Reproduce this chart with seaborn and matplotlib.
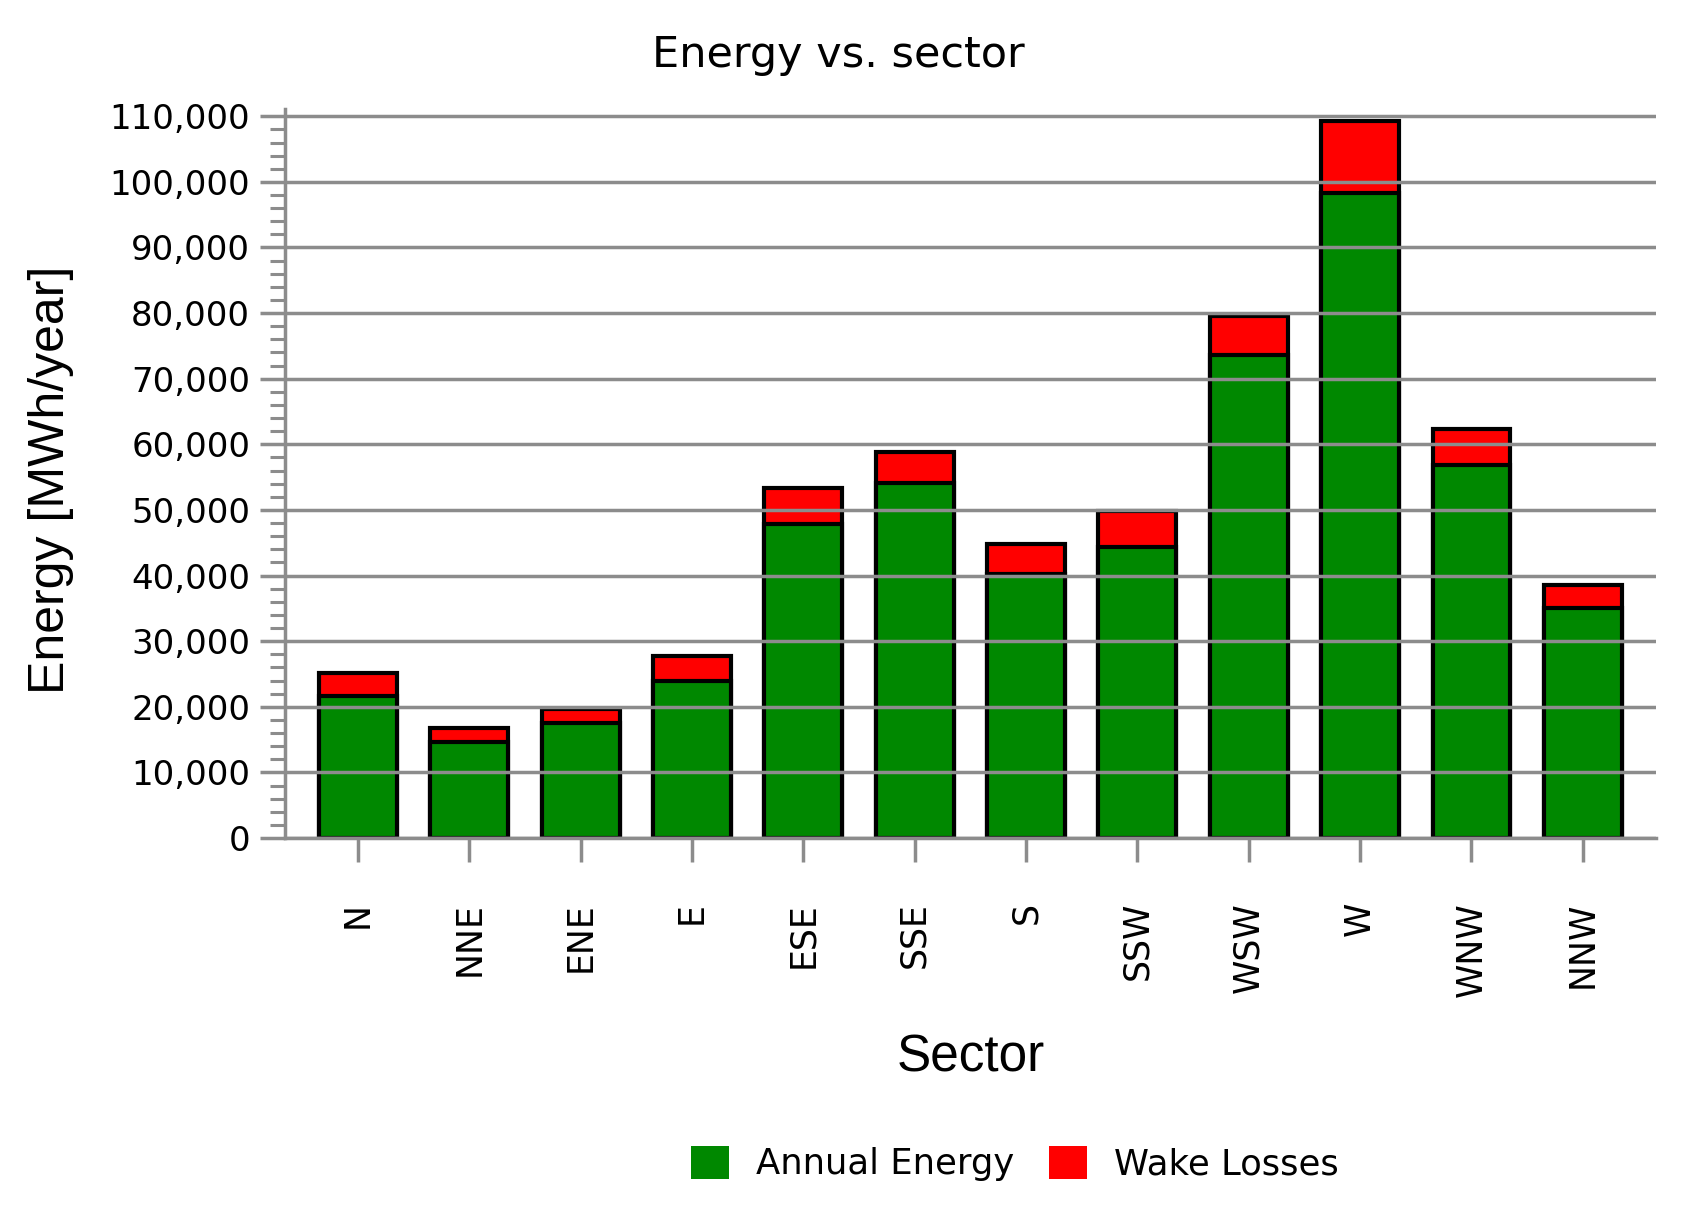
import pandas as pd
import matplotlib
matplotlib.use("Agg")
import matplotlib.pyplot as plt
import matplotlib.ticker as mticker
from matplotlib.patches import Patch
import seaborn as sns

# 데이터
sectors = ['N', 'NNE', 'ENE', 'E', 'ESE', 'SSE', 'S', 'SSW', 'WSW', 'W', 'WNW', 'NNW']
annual_energy = [21600, 14600, 17500, 23900, 47800, 54100, 40200, 44300, 73600, 98300, 56900, 35100]
wake_losses = [3600, 2200, 2100, 3900, 5500, 4800, 4600, 5500, 6000, 11000, 5500, 3500]

df = pd.DataFrame({'Sector': sectors,
                   'Annual Energy': annual_energy,
                   'Wake Losses': wake_losses})
df['Total'] = df['Annual Energy'] + df['Wake Losses']

green = '#008800'
red = '#ff0000'
grid_gray = '#8c8c8c'

sns.set_style("white")
plt.rcParams['font.family'] = ['DejaVu Sans']
plt.rcParams['text.color'] = 'black'
plt.rcParams['xtick.labelcolor'] = 'black'
plt.rcParams['ytick.labelcolor'] = 'black'

fig = plt.figure(figsize=(17, 12.17), dpi=100)
ax = fig.add_axes([0.1676, 0.3114, 0.974 - 0.1676, 0.9104 - 0.3114])

# 누적 막대: 전체(빨강) 먼저, 그 위에 연간 에너지(초록)
sns.barplot(data=df, x='Sector', y='Total', color=red, saturation=1,
            width=0.7, edgecolor='black', linewidth=3.0, ax=ax)
sns.barplot(data=df, x='Sector', y='Annual Energy', color=green, saturation=1,
            width=0.7, edgecolor='black', linewidth=3.0, ax=ax)

ax.set_xlim(-0.655, 11.655)
ax.set_ylim(0, 111100)
ax.yaxis.set_major_locator(mticker.MultipleLocator(10000))
ax.yaxis.set_minor_locator(mticker.MultipleLocator(2000))
ax.yaxis.set_major_formatter(mticker.FuncFormatter(lambda v, p: f"{v:,.0f}"))

ax.set_axisbelow(False)
ax.grid(axis='y', which='major', color=grid_gray, linewidth=2.5)
ax.grid(axis='x', visible=False)

for side in ['top', 'right']:
    ax.spines[side].set_visible(False)
for side in ['left', 'bottom']:
    ax.spines[side].set_color(grid_gray)
    ax.spines[side].set_linewidth(2.5)

ax.tick_params(axis='y', which='major', direction='out', length=18, width=2.5,
               color=grid_gray, labelcolor='black', pad=7, labelsize=24.5, left=True)
ax.tick_params(axis='y', which='minor', direction='out', length=10.5, width=2.2,
               color=grid_gray, left=True)
ax.tick_params(axis='x', which='major', direction='out', length=17, width=2.5,
               color=grid_gray, labelcolor='black', pad=29, labelsize=25, bottom=True)
plt.setp(ax.get_xticklabels(), rotation=90)

ax.set_xlabel('')
ax.set_ylabel('')

fig.text(0.493, 1 - 67 / 1217, 'Energy vs. sector', ha='center', va='baseline',
         fontsize=31, color='black')
fig.text(0.571, 1 - 1071 / 1217, 'Sector', ha='center', va='baseline',
         fontsize=37, family=['Liberation Sans'], color='black')
fig.text(0.03, 0.606, 'Energy [MWh/year]', ha='center', va='center',
         rotation=90, fontsize=36, family=['Liberation Sans'], color='black')

handles = [Patch(facecolor=green, edgecolor='none', label='Annual Energy'),
           Patch(facecolor=red, edgecolor='none', label='Wake Losses')]
leg = fig.legend(handles=handles, loc='center', bbox_to_anchor=(0.597, 0.044), ncol=2,
                 frameon=False, fontsize=25.5, handlelength=1.07, handleheight=1.07,
                 handletextpad=0.75, columnspacing=1.0)
for t in leg.get_texts():
    t.set_color('black')

fig.savefig('out.png', dpi=100)
